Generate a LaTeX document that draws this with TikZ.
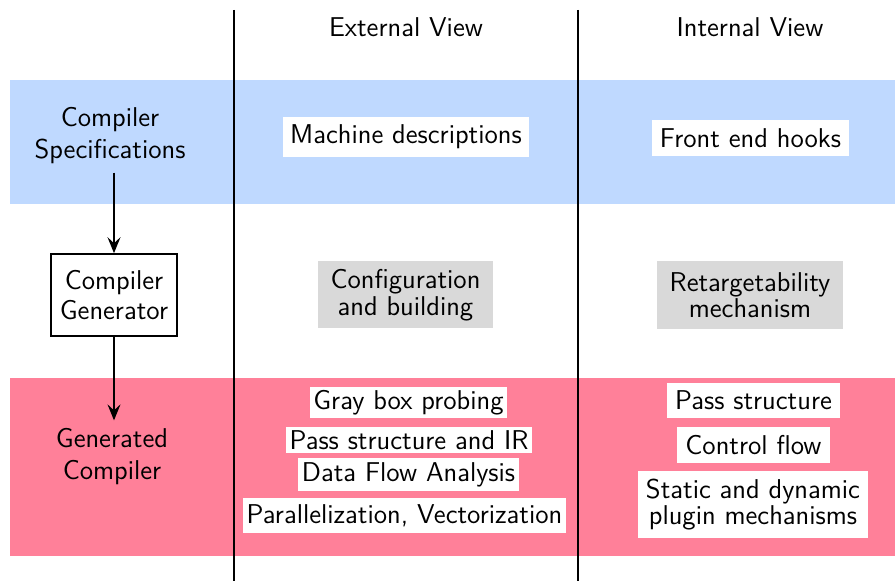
\documentclass[tikz,border=0pt]{standalone}
\usetikzlibrary{arrows.meta}
\definecolor{bandblue}{RGB}{191,217,255}
\definecolor{bandpink}{RGB}{255,128,153}
\definecolor{boxgray}{RGB}{217,217,217}
\begin{document}
\begin{tikzpicture}[x=0.5pt,y=-0.5pt,
  every node/.style={font=\sffamily\fontsize{13.6}{16}\selectfont, align=center},
  whitebox/.style={fill=white, inner sep=0pt},
  graybox/.style={fill=boxgray, inner sep=0pt, font=\sffamily\fontsize{13.6}{12.2}\selectfont},
  genbox/.style={draw=black, line width=0.8pt, fill=white, inner sep=0pt, font=\sffamily\fontsize{13.6}{15.2}\selectfont},
  lbl/.style={inner sep=4pt},
  divider/.style={line width=0.8pt},
  flow/.style={line width=0.8pt, -{Stealth[length=8pt,width=6.5pt,inset=3pt]}}
]
\useasboundingbox (0,0) rectangle (895,581);
% bands
\fill[bandblue] (10,80) rectangle (895,204);
\fill[bandpink] (10,378) rectangle (895,556);
% dividers
\coordinate (d1t) at (234,10); \coordinate (d1b) at (234,581);
\coordinate (d2t) at (578,10); \coordinate (d2b) at (578,581);
\draw[divider] (d1t) -- (d1b);
\draw[divider] (d2t) -- (d2b);
% headers
\node (ext) at (406,27) {External View};
\node (int) at (750,27) {Internal View};
% left column
\node[lbl] (spec) at (110,136) {Compiler\\Specifications};
\node[genbox, minimum width=63pt, minimum height=41pt] (gen) at (114,295) {Compiler\\Generator};
\node[lbl] (generated) at (112,457) {Generated\\Compiler};
\draw[flow] (spec.south -| gen.north) -- (gen.north);
\draw[flow] (gen.south) -- (gen.south |- generated.north);
% external view
\node[whitebox, minimum width=123pt, minimum height=20pt] (mach) at (406,137) {Machine descriptions};
\node[graybox, minimum width=87.5pt, minimum height=33.5pt] (conf) at (405.5,295) {Configuration\\and building};
\node[whitebox, minimum width=98.5pt, minimum height=15.5pt] (gbp) at (408.5,402.5) {Gray box probing};
\node[whitebox, minimum width=123pt, minimum height=13pt] (psir) at (409,440) {Pass structure and IR};
\node[whitebox, minimum width=110.5pt, minimum height=16.5pt] (dfa) at (408.5,474.5) {Data Flow Analysis};
\node[whitebox, minimum width=161.5pt, minimum height=17.5pt] (par) at (404.5,515.5) {Parallelization, Vectorization};
% internal view
\node[whitebox, minimum width=98.5pt, minimum height=18pt] (feh) at (750.5,138) {Front end hooks};
\node[graybox, minimum width=93pt, minimum height=34pt] (ret) at (750,295) {Retargetability\\mechanism};
\node[whitebox, minimum width=86.5pt, minimum height=17.5pt] (ps) at (753.5,400.5) {Pass structure};
\node[whitebox, minimum width=76.5pt, minimum height=18pt] (cf) at (753.5,445) {Control flow};
\node[whitebox, minimum width=115pt, minimum height=33.5pt, font=\sffamily\fontsize{13.6}{13.4}\selectfont] (sdp) at (753,504.5) {Static and dynamic\\plugin mechanisms};
\end{tikzpicture}
\end{document}
